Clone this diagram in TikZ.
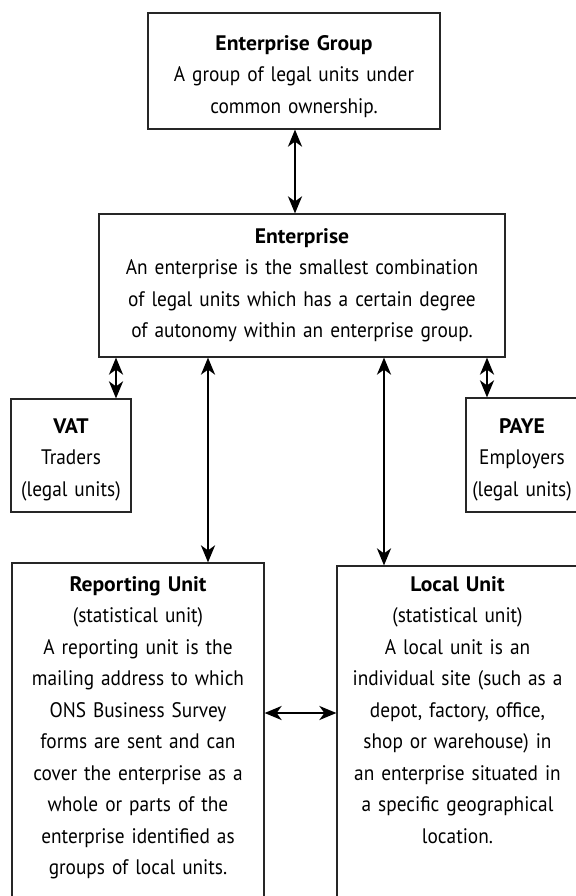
\documentclass[tikz,border=0pt]{standalone}
\usepackage{fontspec}
\setmainfont{PT Sans}[FakeStretch=0.92]
\newfontfamily\titlefam{PT Sans}[FakeStretch=1.03]
\newcommand{\ttl}[1]{{\titlefam\bfseries #1}}
\usetikzlibrary{arrows.meta}
\begin{document}
\begin{tikzpicture}[x=1bp,y=-1bp,
  box/.style={draw=black!85, line width=1.2bp, inner sep=0pt, minimum width=#1},
  txt/.style={inner sep=0pt, align=center, text width=#1, anchor=base,
    font=\fontsize{21bp}{31.5bp}\selectfont},
  arr/.style={{Stealth[length=17bp,width=14bp,inset=5bp]}-{Stealth[length=17bp,width=14bp,inset=5bp]}, line width=2.3bp, black}
]
\clip (0,0) rectangle (576,896);
\fill[white] (0,0) rectangle (576,896);

% boxes
\node[box=292bp, minimum height=116bp] (EG) at (294,71) {};
\node[box=406bp, minimum height=143bp] (E) at (302,285.5) {};
\node[box=120bp, minimum height=113bp] (VAT) at (71,455.5) {};
\node[box=112bp, minimum height=114bp] (PAYE) at (522,455) {};
\node[box=252bp, minimum height=345bp] (RU) at (138,735.5) {};
\node[box=241bp, minimum height=342bp] (LU) at (457.5,737) {};

% texts
\node[txt=288bp] (EGt) at (294,50) {\ttl{Enterprise Group}\\A group of legal units under\\common ownership.};
\node[txt=400bp] (Et) at (302,243) {\ttl{Enterprise}\\An enterprise is the smallest combination\\of legal units which has a certain degree\\of autonomy within an enterprise group.};
\node[txt=118bp] (VATt) at (71,433) {\ttl{VAT}\\Traders\\(legal units)};
\node[txt=110bp] (PAYEt) at (522,433) {\ttl{PAYE}\\Employers\\(legal units)};
\node[txt=248bp] (RUt) at (138,591) {\ttl{Reporting Unit}\\(statistical unit)\\A reporting unit is the\\mailing address to which\\ONS Business Survey\\forms are sent and can\\cover the enterprise as a\\whole or parts of the\\enterprise identified as\\groups of local units.};
\node[txt=238bp] (LUt) at (457.5,591) {\ttl{Local Unit}\\(statistical unit)\\A local unit is an\\individual site (such as a\\depot, factory, office,\\shop or warehouse) in\\an enterprise situated in\\a specific geographical\\location.};

% arrow positions
\coordinate (xg) at (295,0);
\coordinate (xv) at (116,0);
\coordinate (xp) at (487,0);
\coordinate (xr) at (208,0);
\coordinate (xl) at (384,0);
\coordinate (yh) at (0,713);

\draw[arr] (EG.south -| xg) -- (E.north -| xg);
\draw[arr] (E.south -| xv) -- (VAT.north -| xv);
\draw[arr] (E.south -| xp) -- (PAYE.north -| xp);
\draw[arr] (E.south -| xr) -- (RU.north -| xr);
\draw[arr] (E.south -| xl) -- (LU.north -| xl);
\draw[arr] (RU.east |- yh) -- (LU.west |- yh);
\end{tikzpicture}
\end{document}
